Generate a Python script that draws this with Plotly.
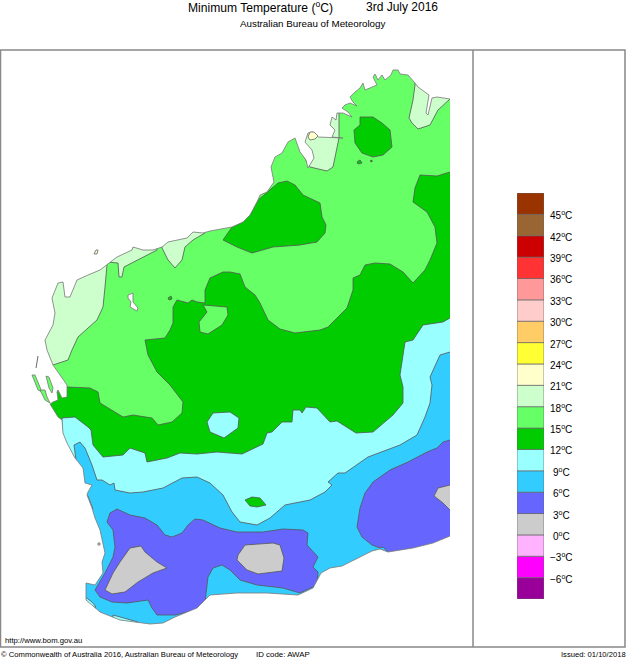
import plotly.graph_objects as go

# colour scale, coldest first
levels = [-9, -6, -3, 0, 3, 6, 9, 12, 15, 18, 21, 24, 27, 30, 33, 36, 39, 42, 45]
level_colors = ["#990099", "#FF00FF", "#FFB3FF", "#CCCCCC", "#6666FF", "#33CCFF", "#99FFFF",
                "#00CC00", "#66FF66", "#CCFFCC", "#FFFFCC", "#FFFF33", "#FFCC66", "#FFCCCC",
                "#FF9999", "#FF3333", "#CC0000", "#996633", "#993300"]
tick_values = [-6, -3, 0, 3, 6, 9, 12, 15, 18, 21, 24, 27, 30, 33, 36, 39, 42, 45]

# map outlines as (easting, southing) on the sheet grid
coast = [(450, 99), (437, 97), (432, 98), (430, 108), (428, 115), (426, 113), (428, 100), (429, 95),
         (418, 87), (415, 83), (408, 75), (400, 74), (398, 70), (393, 70), (391, 75), (385, 80), (382, 75),
         (378, 80), (375, 74), (373, 77), (377, 85), (370, 88), (365, 90), (363, 83), (360, 88), (355, 92),
         (350, 97), (353, 102), (357, 106), (350, 103), (345, 105), (342, 108), (348, 112), (352, 117),
         (343, 113), (337, 113), (336, 120), (332, 117), (330, 125), (335, 130), (332, 137), (343, 138),
         (318, 137), (313, 132), (308, 133), (305, 142), (312, 150), (314, 158),
         (308, 168), (306, 160), (300, 152), (295, 138), (288, 142), (282, 153), (275, 157), (271, 167), (274, 182),
         (267, 192), (260, 195), (258, 200), (250, 215), (243, 222), (232, 227), (210, 231), (203, 233),
         (193, 232), (187, 238), (168, 242), (162, 247), (153, 250), (143, 250), (133, 247), (132, 250),
         (117, 257), (110, 262), (100, 270), (88, 275), (77, 280), (70, 297), (65, 297), (63, 282), (58, 283),
         (52, 298), (55, 313), (53, 325), (45, 340), (47, 350), (53, 365), (67, 385), (67, 397), (62, 398),
         (58, 390), (57, 392), (58, 400), (53, 402), (50, 404), (58, 417), (62, 420), (63, 433), (67, 443),
         (75, 458), (83, 468), (85, 483), (92, 485), (88, 492), (87, 495), (92, 508), (95, 518),
         (100, 530), (105, 553), (102, 562), (103, 573), (95, 585),
         (86, 583), (86, 600), (100, 612), (120, 620), (150, 624), (163, 623), (175, 617), (197, 608), (205, 600),
         (210, 595), (237, 593), (267, 593), (298, 595), (313, 588), (321, 573), (330, 568), (342, 566),
         (360, 557), (372, 551), (380, 549), (388, 552), (413, 548), (433, 543), (450, 536)]

band_18_west = [(107, 255), (107, 265), (105, 287), (103, 307), (97, 320), (78, 337), (72, 350), (68, 360),
                (53, 365), (20, 365), (20, 255)]
band_18_strip = [(105, 250), (107, 262), (118, 263), (119, 277), (122, 277), (124, 267), (157, 250), (157, 235)]
band_18_bight = [(162, 235), (162, 248), (168, 260), (175, 268), (182, 260), (185, 247), (193, 240), (205, 233), (205, 220)]
band_18_fitzroy = [(330, 110), (339, 110), (339, 138), (333, 167), (327, 171), (310, 167), (300, 150), (305, 125)]
band_18_ord = [(415, 70), (415, 85), (413, 100), (409, 118), (412, 123), (418, 129), (430, 125), (438, 110),
               (450, 99), (460, 90), (460, 70)]

band_12_kimberley = [(360, 117), (373, 117), (382, 123), (390, 130), (392, 147), (383, 155), (373, 157),
                     (362, 153), (355, 143), (354, 130), (360, 125)]
band_12_spot_a = [(357, 162), (360, 160), (362, 163), (358, 164)]
band_12_spot_b = [(370, 161), (372, 160), (372, 162)]
band_12_spot_c = [(168, 298), (171, 296), (172, 299), (169, 300)]
band_12_pilbara = [(223, 240), (232, 227), (243, 222), (250, 215), (258, 200), (267, 192), (278, 183), (287, 181),
                   (295, 185), (303, 195), (320, 203), (322, 217), (326, 225), (325, 233), (317, 242), (300, 245),
                   (273, 247), (252, 253), (237, 247)]
band_12_main = [(460, 172), (450, 172), (437, 176), (420, 175), (415, 188), (413, 202), (427, 212), (435, 227), (437, 243),
                (430, 260), (425, 270), (413, 283), (403, 272), (390, 264), (375, 263), (365, 265), (360, 275),
                (353, 278), (353, 290), (347, 308), (337, 318), (328, 327), (320, 330), (295, 333), (280, 329),
                (268, 320), (260, 303), (255, 295), (245, 287), (240, 274), (230, 272), (223, 272), (210, 278),
                (205, 290), (205, 303), (197, 302), (192, 300), (188, 303), (177, 300), (173, 307), (173, 323),
                (170, 330), (165, 338), (145, 340), (148, 355), (157, 372), (170, 385), (183, 402), (182, 413),
                (172, 422), (158, 425), (152, 418), (133, 415), (123, 417), (100, 403), (98, 392), (90, 388),
                (67, 387), (40, 387), (40, 640), (460, 640)]
band_15_hole = [(203, 305), (227, 307), (228, 315), (222, 325), (208, 334), (200, 332), (199, 322), (207, 312)]
band_12_south = [(245, 500), (252, 497), (260, 498), (266, 505), (257, 507), (250, 506)]

band_9_main = [(62, 418), (75, 417), (88, 427), (91, 430), (93, 445), (103, 457), (123, 455), (130, 448), (145, 453),
               (147, 462), (167, 458), (180, 453), (197, 454), (217, 452), (242, 454), (263, 444), (267, 433),
               (272, 432), (282, 422), (292, 422), (293, 410), (300, 410), (302, 413), (306, 407), (317, 408),
               (330, 422), (337, 421), (356, 433), (373, 432), (393, 415), (403, 403), (403, 387), (400, 375),
               (405, 342), (413, 340), (423, 325), (443, 322), (450, 318), (460, 318), (460, 640), (40, 640),
               (40, 450), (66, 444), (62, 432)]
band_9_lake = [(213, 413), (230, 412), (239, 418), (238, 428), (224, 438), (210, 432), (207, 422)]

band_6_main = [(74, 445), (80, 442), (85, 448), (92, 465), (97, 480), (102, 480), (110, 485), (114, 483), (115, 490),
               (130, 493), (143, 492), (163, 488), (182, 478), (197, 477), (210, 483), (223, 495), (232, 512),
               (240, 522), (257, 525), (270, 518), (285, 505), (310, 500), (325, 492), (332, 485), (328, 482),
               (338, 473), (345, 473), (368, 457), (400, 445), (417, 435), (425, 417), (430, 403), (432, 385),
               (430, 377), (440, 355), (450, 352), (460, 352), (460, 640), (40, 640), (40, 460), (76, 460)]
band_9_cape = [(84, 596), (92, 602), (96, 607), (84, 608)]
band_9_flinders = [(113, 615), (125, 618), (138, 622), (138, 630), (113, 630)]
band_9_bay = [(85, 495), (88, 496), (93, 509), (90, 510)]

band_3_sw = [(117, 509), (110, 513), (107, 522), (113, 530), (115, 547), (113, 557), (105, 573), (95, 590), (100, 597),
             (112, 602), (127, 603), (148, 600), (152, 608), (157, 615), (175, 615), (197, 610), (205, 602), (208, 577),
             (213, 568), (222, 565), (230, 570), (240, 580), (257, 585), (283, 588), (300, 593), (317, 585),
             (318, 572), (313, 567), (318, 557), (307, 545), (308, 533), (303, 530), (283, 529), (263, 532),
             (237, 532), (220, 528), (203, 520), (195, 519), (188, 525), (182, 533), (172, 537), (165, 535),
             (157, 525), (145, 518), (130, 515)]
band_3_east = [(460, 440), (450, 440), (443, 442), (437, 448), (427, 452), (408, 462), (390, 470), (373, 482), (365, 493),
               (360, 508), (357, 527), (362, 537), (372, 545), (380, 548), (383, 547), (388, 552), (388, 575), (460, 575)]
band_0_west = [(141, 546), (130, 548), (120, 562), (113, 573), (105, 590), (112, 594), (125, 592), (138, 582),
               (153, 573), (167, 568), (157, 562), (145, 552)]
band_0_mid = [(245, 545), (238, 555), (237, 560), (247, 570), (258, 574), (282, 571), (284, 558), (280, 545),
              (273, 543), (260, 544)]
band_0_east = [(460, 485), (450, 485), (438, 488), (434, 496), (443, 503), (450, 510), (460, 510)]

lake_a = [(128, 295), (133, 293), (133, 302), (138, 308), (137, 311), (130, 307), (131, 302), (128, 298)]
island_a = [(32, 375), (35, 375), (42, 392), (38, 390)]
island_b = [(46, 376), (49, 377), (53, 388), (52, 393), (49, 388)]
island_c = [(40, 390), (45, 390), (47, 397), (50, 403), (45, 400)]
island_d = [(94, 254), (96, 250), (98, 250), (97, 254)]
island_e = [(98, 543), (100, 543), (100, 545), (98, 545)]
island_f = [(308, 137), (310, 132), (314, 132), (318, 136), (315, 139), (310, 140)]
island_g = [(38, 356), (36, 368)]

frame_left, frame_top, frame_mid, frame_right, frame_bottom = 0.5, 50, 473, 625, 647

C18, C15, C12, C9, C6, C3, C0 = "#CCFFCC", "#66FF66", "#00CC00", "#99FFFF", "#33CCFF", "#6666FF", "#CCCCCC"
EDGE = "#555555"


def region(points, color, edge=EDGE, close=True):
    if close:
        points = points + points[:1]
    return go.Scatter(x=[p[0] for p in points], y=[p[1] for p in points],
                      mode="lines", fill="toself" if color else "none", fillcolor=color,
                      line=dict(color=edge, width=0.8), hoverinfo="skip", showlegend=False)


fig = go.Figure()

# painted from the warm inland bands down to the cold south, then masked by the coast
fig.add_trace(region(coast, C15, edge=C15))
for pts in [band_18_west, band_18_strip, band_18_bight, band_18_fitzroy, band_18_ord]:
    fig.add_trace(region(pts, C18))
for pts in [band_12_kimberley, band_12_spot_a, band_12_spot_b, band_12_spot_c, band_12_pilbara, band_12_main]:
    fig.add_trace(region(pts, C12))
fig.add_trace(region(band_15_hole, C15))
fig.add_trace(region(band_9_main, C9))
fig.add_trace(region(band_9_lake, C9))
fig.add_trace(region(band_12_south, C12))
fig.add_trace(region(band_6_main, C6))
for pts in [band_9_cape, band_9_flinders, band_9_bay]:
    fig.add_trace(region(pts, C9))
fig.add_trace(region(band_3_sw, C3))
fig.add_trace(region(band_3_east, C3))
for pts in [band_0_west, band_0_mid, band_0_east]:
    fig.add_trace(region(pts, C0))

# white sea over everything outside the coast
sea = [(frame_mid, coast[0][1]), (frame_mid, frame_bottom), (0, frame_bottom), (0, frame_top),
       (frame_mid, frame_top), (frame_mid, coast[0][1])] + coast + [coast[0]]
fig.add_trace(region(sea, "white", edge="rgba(0,0,0,0)", close=False))
fig.add_trace(region(coast, None, edge="#777777", close=False))

fig.add_trace(region(lake_a, "white", edge="#777777"))
for pts in [island_a, island_b, island_c]:
    fig.add_trace(region(pts, C15, edge="#777777"))
for pts in [island_d, island_e, island_f]:
    fig.add_trace(region(pts, "#FFFFCC", edge="#666666"))
fig.add_trace(region(island_g, None, edge="#444444", close=False))

# colour key
fig.add_trace(go.Bar(x=[0] * len(levels), y=[3] * len(levels), base=levels, width=1,
                     marker=dict(color=level_colors, line=dict(color="#666666", width=0.7)),
                     xaxis="x2", yaxis="y2", hoverinfo="skip", showlegend=False))

annotations = []


def label(text, x, y, size, anchor="left", yref="paper", yshift=0):
    annotations.append(dict(text=text, x=x, y=y, xref="paper", yref=yref, xanchor=anchor, yanchor="middle",
                            showarrow=False, borderpad=0, borderwidth=0, yshift=yshift,
                            font=dict(family="Liberation Sans", size=size, color="black")))


for t in tick_values:
    label(str(t).replace("-", "\u2212") + "<sup>o</sup>C", 561 / 626, t, 10, anchor="center", yref="y2", yshift=-1)

label("Minimum Temperature (<sup>o</sup>C)", 188 / 626, 1 - 7 / 659, 12.1)
label("3rd July 2016", 366 / 626, 1 - 7 / 659, 12)
label("Australian Bureau of Meteorology", 313 / 626, 1 - 24 / 659, 9.8, anchor="center")
label("http://www.bom.gov.au", 5 / 626, 1 - 640 / 659, 7.7)
label("\u00a9 Commonwealth of Australia 2016, Australian Bureau of Meteorology", 1 / 626, 1 - 654 / 659, 7.65)
label("ID code: AWAP", 256 / 626, 1 - 654 / 659, 7.9)
label("Issued: 01/10/2018", 1, 1 - 654 / 659, 7.6, anchor="right")

frame = [dict(type="rect", x0=frame_left, x1=frame_right, y0=frame_top, y1=frame_bottom),
         dict(type="line", x0=frame_mid, x1=frame_mid, y0=frame_top, y1=frame_bottom)]
for s in frame:
    s.update(xref="x", yref="y", line=dict(color="#888888", width=1.5))

fig.update_layout(
    width=626, height=659, margin=dict(l=0, r=0, t=0, b=0),
    paper_bgcolor="white", plot_bgcolor="white", barmode="overlay",
    xaxis=dict(range=[0, 626], visible=False, domain=[0, 1]),
    yaxis=dict(range=[659, 0], visible=False, domain=[0, 1]),
    xaxis2=dict(range=[-0.5, 0.5], visible=False, domain=[517 / 626, 544 / 626], anchor="y2"),
    yaxis2=dict(range=[-9, 48], visible=False, domain=[1 - 599 / 659, 1 - 193 / 659], anchor="x2"),
    annotations=annotations, shapes=frame)

fig.write_html("out.html", config=dict(displayModeBar=False),
               post_script="document.body.style.margin='0';")
